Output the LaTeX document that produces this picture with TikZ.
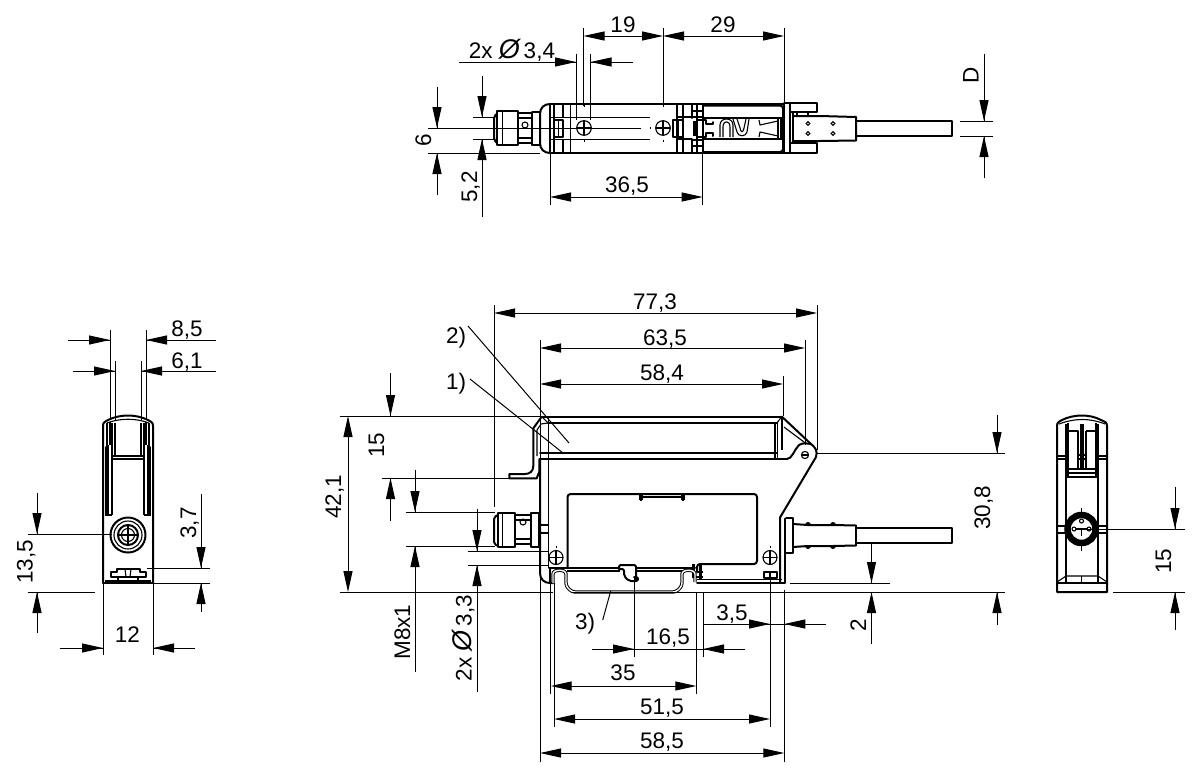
\documentclass[tikz,border=0pt]{standalone}
\usepackage{fontspec}
\setmainfont{Liberation Sans}
\usetikzlibrary{arrows.meta}
\tikzset{
  dimline/.style={line width=1pt,draw=black},
  dimboth/.style={dimline,{Triangle[length=21pt,width=9pt]}-{Triangle[length=21pt,width=9pt]}},
  dimtip/.style={dimline,-{Triangle[length=21pt,width=9pt]}},
  lbl/.style={inner sep=0pt,text height=16pt,text depth=0pt,font=\fontsize{22.5}{25}\selectfont},
  lblr/.style={lbl,rotate=90},
  thin line/.style={line width=0.8pt},
  med/.style={line width=1.1pt,line join=round},
  thick line/.style={line width=2pt,line join=round,line cap=round},
}
\begin{document}
\begin{tikzpicture}[x=1pt,y=-1pt]
\useasboundingbox (0,0) rectangle (1200,777);
% ================= TOP VIEW ==================
\draw[thick line] (550,104) -- (783,104);
\draw[thick line] (550,153) -- (783,153);
\draw[thick line] (550,104) .. controls (544,104) and (540,108) .. (540,114) -- (540,143) .. controls (540,149) and (544,153) .. (550,153);
\draw[thick line] (550,104) -- (550,153);
\draw[med] (554,104) -- (554,153);
\draw[med] (570.7,104) -- (570.7,153);
\draw[med] (563,104) -- (563,117) (563,139) -- (563,153);
\draw[thin line] (550,117) -- (650,117) (550,139) -- (650,139);
\draw[med] (554,120) -- (563,120) -- (563,137) -- (554,137);
\draw[thin line] (558,120) -- (558,137);
% centre screws
\draw[med] (584,128) circle (7.3);
\draw[med] (576.7,128) -- (591.3,128) (584,120.7) -- (584,135.3);
\draw[med] (663,128) circle (7.3);
\draw[med] (655.7,128) -- (670.3,128) (663,120.7) -- (663,135.3);
\draw[thin line] (584,104) -- (584,106.5) (584,140) -- (584,142) (663,104) -- (663,106.5) (663,140) -- (663,142) (650,127) -- (650,129);
% divider section
\draw[med] (677,104) -- (677,153) (683,104) -- (683,153);
\draw[thick line] (692,104) -- (692,118) (692,139) -- (692,153);
\draw[med] (697,104) -- (697,153) (703,104) -- (703,153);
\draw[med] (677,117) -- (692,117) (677,139) -- (692,139);
\draw[med] (692,111) -- (703,111) (692,117) -- (703,117) (692,140) -- (703,140) (692,146) -- (703,146);
\draw[med] (673,120) -- (683,120) -- (683,137) -- (673,137) -- cycle;
\draw[thin line] (678,120) -- (678,137);
% compartment
\draw[thick line,rounded corners=3pt] (703,105.5) -- (783,105.5) -- (783,152) -- (703,152);
\draw[med] (703,118) -- (782,118) (703,139) -- (782,139);
\draw[line width=3pt] (694,121) -- (694,136);
\draw[thick line] (697,120) -- (706,120) -- (706,124) -- (713,124) -- (713,122) (697,137) -- (706,137) -- (706,133) -- (713,133) -- (713,136);
\draw[med] (720,137) -- (720,125) .. controls (720,117) and (733,117) .. (733,125) -- (733,137);
\draw[med] (723,137) -- (723,127) .. controls (723,120) and (730,120) .. (730,127) -- (730,137);
\draw[med] (733,119) -- (737,132) .. controls (738,137) and (746,137) .. (747,132) -- (749,119);
\draw[med] (737,119) -- (740,128) .. controls (741,133) and (743,133) .. (744,128) -- (746,119);
\draw[med] (759,120) -- (760,125) -- (778,121) (759,137) -- (760,132) -- (778,136);
\draw[line width=1.6pt] (778,118) -- (778,139) (781,118) -- (781,139);
% right end
\draw[thick line] (784,104) -- (784,153);
\draw[thick line] (784,103) -- (816.5,103) -- (816.5,112) -- (790,112);
\draw[thick line] (784,153) -- (816.5,153) -- (816.5,143) -- (790,143);
\draw[med] (790,104) -- (790,153);
\draw[thick line] (793,112) -- (793,143);
\draw[line width=2.4pt] (797,111) -- (797,115) (808,111) -- (808,116) (797,140) -- (797,144) (808,140) -- (808,144);
% plug and cable
\draw[thick line] (793,116) -- (820,116) -- (856,117) -- (856,140.5) -- (820,141) -- (793,141);
\draw[line width=2.6pt] (856,117) -- (856,140.5);
\draw[thick line] (856,121) -- (952,121) -- (952,136) -- (856,136);
\foreach \px/\py in {808/123.5,808/133.5,833/123.5,833/133.5}
  \draw[line width=1.1pt] (\px,\py) circle (1.8);
% connector on the left
\draw[med] (540,118) -- (540,139);
\draw[thick line,rounded corners=2pt] (497,114) -- (494,116) -- (494,140) -- (497,143);
\draw[thick line] (497,111) -- (518,111) -- (518,145) -- (497,145) -- cycle;
\draw[thin line] (502,111) -- (502,145);
\draw[line width=2.6pt] (519,113) -- (532,113) (519,143) -- (532,143);
\draw[med] (519,118) -- (532,118) (519,138) -- (532,138);
\draw[med] (525,125) circle (3);
\draw[thick line] (532,112) -- (540,112) (532,145) -- (540,145) (532,112) -- (532,145);
% dims top
\draw[dimline] (583.5,28) -- (583.5,106) (663,28) -- (663,105) (784,28) -- (784,105);
\draw[dimboth] (583.5,36) -- (663,36);
\draw[dimboth] (663,36) -- (784,36);
\node[lbl] (t19) at (623,24) {19};
\node[lbl] (t29) at (723,24) {29};
\draw[dimline] (576,54) -- (576,120) (590.5,54) -- (590.5,120);
\draw[dimline] (459,62) -- (576,62) (590.5,62) -- (633,62);
\draw[dimtip] (555,62) -- (576,62);
\draw[dimtip] (611.5,62) -- (590.5,62);
\node[lbl] (tdia) at (512,50) {2x {\itshape\fontsize{27}{27}\selectfont Ø}\,3,4};
\draw[dimline] (473,117) -- (494,117) (473,139) -- (494,139);
\draw[dimline] (428,128) -- (641,128);
\draw[dimline] (428,153) -- (540,153);
\draw[dimline] (437,87) -- (437,128) (437,153) -- (437,195);
\draw[dimtip] (437,107) -- (437,128);
\draw[dimtip] (437,174) -- (437,153);
\node[lblr] (t6) at (423,140) {6};
\draw[dimline] (482,76) -- (482,117) (482,139) -- (482,217);
\draw[dimtip] (482,96) -- (482,117);
\draw[dimtip] (482,160) -- (482,139);
\node[lblr] (t52) at (469,187) {5,2};
\draw[dimline] (550,153) -- (550,205) (702.7,153) -- (702.7,205);
\draw[dimboth] (550,197) -- (702.7,197);
\node[lbl] (t365) at (627,184) {36,5};
\draw[dimline] (960,121) -- (993,121) (960,136) -- (993,136);
\draw[dimline] (984,54) -- (984,121) (984,136) -- (984,178);
\draw[dimtip] (984,100) -- (984,121);
\draw[dimtip] (984,157) -- (984,136);
\node[lblr] (tD) at (970.5,75.5) {D};
% ================= MAIN VIEW ==================
\draw[thick line] (541.7,416.5) -- (781.7,416.5);
\draw[thick line] (548,423) -- (777,423);
\draw[med] (541.7,416.5) -- (548,423) (781.7,416.5) -- (777,423);
\draw[med] (548.3,416.5) -- (548.3,568);
\draw[thick line] (540,453) -- (777,453);
\draw[thick line] (540,459) -- (787,459);
\draw[med] (775,423) -- (775,459) (777.5,423) -- (777.5,459) (782,416.5) -- (782,450);
% bracket
\draw[thick line] (541.7,416.7) -- (533.3,428.3) -- (533.3,466) .. controls (533.3,471) and (530,474) .. (525,474) -- (509.3,474) -- (509.3,478.3) -- (536.7,478.3) -- (539.3,471.7) -- (539.3,459);
\draw[med] (537,456) -- (537,430) -- (541,424) -- (548,423);
% left and pivot
\draw[thick line] (540,459) -- (540,573) .. controls (540,579) and (544,583) .. (550,583) -- (553,583);
\draw[thick line] (781.7,416.5) -- (811,444);
\draw[thick line] (811,444) .. controls (815,447) and (818,451) .. (816,457) -- (780,517.5) -- (780,583);
\draw[med] (784,427) -- (806,443.5);
\draw[thick line] (787,459) .. controls (792,459) and (794,450) .. (799,445) .. controls (803,442) and (809,444) .. (811,444);
\draw[med] (805,455) circle (3.6);
\draw[med] (801.5,455) -- (808.5,455);
% right bottom
\draw[med] (785,518) -- (785,583);
\draw[thick line] (697,582.5) -- (785,582.5);
\draw[med] (697,579.5) -- (782,579.5);
% window
\draw[thick line,rounded corners=3pt] (567.5,568) -- (567.5,494) -- (757,494) -- (757,564) -- (697,564) -- (697,572);
\draw[med] (640,495) -- (640,500) (642,495) -- (642,500) (684,495) -- (684,500) (682,495) -- (682,500) (640,497) -- (684,497) (640,500) -- (642,500) (682,500) -- (684,500);
\draw[thick line] (549,568) -- (619,568) (636,568) -- (695,568);
\draw[med] (567,571) -- (620,571) (636,571) -- (695,571);
\draw[line width=3pt] (693,564) -- (693,578) (700,565) -- (700,580);
\draw[med] (697,572) -- (703,572) (695,577) -- (703,577);
\draw[line width=2.8pt] (550,568) -- (550,582);
% hook
\draw[thick line,rounded corners=2pt] (619,569) -- (619,565) -- (636,565) -- (636,580);
\draw[thick line,rounded corners=2pt] (619,569) -- (624,569) -- (624,576) -- (629,581) -- (638,581) -- (638,577) -- (634,577);
% rail
\draw[line width=1pt,double=white,double distance=1.4pt,rounded corners=3pt,line join=round] (553,583) -- (553,577) .. controls (553,569) and (566,569) .. (566,577) -- (566,586) -- (572,592) -- (676,592) -- (682,586) -- (682,577) .. controls (682,569) and (695,569) .. (695,577) -- (695,582);
% screws
\foreach \sx in {556,770} {
  \draw[med] (\sx,557.5) circle (7);
  \draw[med] (\sx-7,557.5) -- (\sx+7,557.5) (\sx,550.5) -- (\sx,564.5);
  \draw[thin line] (\sx,545.5) -- (\sx,547.5);
}
\draw[thick line] (763.5,571.5) rectangle (776.5,578);
\draw[med] (770,571.5) -- (770,578);
% left connector
\draw[thick line,rounded corners=2pt] (498,515) -- (494,517) -- (494,544) -- (498,546);
\draw[thick line] (498,512.5) -- (515,512.5) -- (515,546.5) -- (498,546.5) -- cycle;
\draw[thin line] (502,513) -- (502,546);
\draw[line width=2.6pt] (516,515) -- (530,515) (516,544) -- (530,544);
\draw[med] (516,520) -- (530,520) (516,539) -- (530,539);
\draw[med] (523,522) circle (3);
\draw[thick line] (531,512.5) -- (539,512.5) -- (539,546.5) -- (531,546.5) -- cycle;
\draw[med] (540,525) -- (548,525) (540,533) -- (548,533);
% right connector
\draw[thick line] (786,518) -- (793,518) -- (793,552.5) -- (786,552.5);
\draw[thick line] (793,524) -- (808,525) (808,525) -- (833,525) -- (856,525.5);
\draw[thick line] (793,547) -- (808,546) -- (833,546) -- (856,545.5);
\draw[line width=2.6pt] (856,525) -- (856,546);
\draw[thick line] (856,528.3) -- (952,528.3) -- (952,543) -- (856,543);
\foreach \px in {808,833} {
  \fill (\px-3,525) arc[start angle=180,end angle=360,radius=3];
  \fill (\px-3,546) arc[start angle=180,end angle=0,radius=3];
}
% main dims
\draw[dimline] (494,305) -- (494,507) (817,305) -- (817,450);
\draw[dimboth] (494,313) -- (817,313);
\node[lbl] (t773) at (655,301) {77,3};
\draw[dimline] (540,340) -- (540,762) (805,340) -- (805,445);
\draw[dimboth] (540,348) -- (805,348);
\node[lbl] (t635) at (665,337) {63,5};
\draw[dimline] (783,376) -- (783,416);
\draw[dimboth] (540,384) -- (783,384);
\node[lbl] (t584) at (662,372) {58,4};
\node[lbl] (t2p) at (456,335) {2)};
\node[lbl] (t1p) at (456,381) {1)};
\draw[dimline] (468,326) -- (569,443);
\draw[dimline] (470,379) -- (563,453);
\draw[dimline] (340,416) -- (541,416);
\draw[dimline] (340,592) -- (553,592) (572,592) -- (880,592);
\draw[dimboth] (348,416) -- (348,592);
\node[lblr] (t421) at (333,497) {42,1};
\draw[dimline] (382,478) -- (510,478);
\draw[dimline] (390.5,373) -- (390.5,416) (390.5,478) -- (390.5,520.5);
\draw[dimtip] (390.5,395) -- (390.5,416);
\draw[dimtip] (390.5,499) -- (390.5,478);
\node[lblr] (t15a) at (376,445) {15};
\draw[dimline] (406,512) -- (495,512) (406,546) -- (495,546);
\draw[dimline] (415,470) -- (415,512) (415,546) -- (415,672);
\draw[dimtip] (415,491) -- (415,512);
\draw[dimtip] (415,567) -- (415,546);
\node[lblr] (tm8) at (402,632) {M8x1};
\draw[dimline] (468,551) -- (548,551) (468,565) -- (548,565);
\draw[dimline] (477,509) -- (477,551) (477,565) -- (477,692);
\draw[dimtip] (477,530) -- (477,551);
\draw[dimtip] (477,586) -- (477,565);
\node[lblr] (tdib) at (463.5,638) {2x {\itshape\fontsize{27}{27}\selectfont Ø}\,3,3};
\draw[dimline] (790,583) -- (890,583);
\draw[dimline] (871.5,543) -- (871.5,583) (871.5,592) -- (871.5,644);
\draw[dimtip] (871.5,562) -- (871.5,583);
\draw[dimtip] (871.5,613) -- (871.5,592);
\node[lblr] (t2) at (858,625) {2};
\draw[dimline] (817,453) -- (1005,453) (880,592) -- (1005,592);
\draw[dimline] (997,415) -- (997,453) (997,592) -- (997,625);
\draw[dimtip] (997,432) -- (997,453);
\draw[dimtip] (997,613) -- (997,592);
\node[lblr] (t308) at (982,508) {30,8};
\node[lbl] (t3p) at (585,621.5) {3)};
\draw[dimline] (610.7,591) -- (602.7,620);
\draw[dimline] (703,592) -- (703,657) (634,576) -- (634,657);
\draw[dimline] (703,624) -- (826,624);
\draw[dimtip] (749,624) -- (770,624);
\draw[dimtip] (805,624) -- (784.3,624);
\node[lbl] (t35b) at (732,612) {3,5};
\draw[dimline] (592,649) -- (745,649);
\draw[dimtip] (613,649) -- (634,649);
\draw[dimtip] (724,649) -- (703,649);
\node[lbl] (t165) at (668,636) {16,5};
\draw[dimline] (550.7,583) -- (550.7,694) (696.3,592) -- (696.3,694);
\draw[dimboth] (550.7,686) -- (696.3,686);
\node[lbl] (t35) at (623,672) {35};
\draw[dimline] (554,583) -- (554,727) (770,577) -- (770,727);
\draw[dimboth] (554,719) -- (770,719);
\node[lbl] (t515) at (662,706) {51,5};
\draw[dimline] (784.3,590) -- (784.3,762);
\draw[dimboth] (540,753) -- (784.3,753);
\node[lbl] (t585) at (662,740) {58,5};
% ================= LEFT VIEW ==================
\draw[thick line] (103,583) -- (103,426) .. controls (103,422) and (105,422) .. (108,420) .. controls (120,414) and (136,414) .. (148,420) .. controls (151,422) and (153,422) .. (153,426) -- (153,583);
\draw[med] (107,423) .. controls (120,418) and (136,418) .. (149,423);
\draw[line width=2.6pt] (103,583) -- (153,583);
\draw[med] (107,423) -- (107,449) (149,423) -- (149,449);
\draw[thick line] (106,447) -- (106,515) (150,447) -- (150,515);
\draw[med] (112,423) -- (112,515) (144,423) -- (144,515);
\draw[line width=2.6pt] (108,445) -- (108,515) (148,445) -- (148,515) (110,422) -- (110,445) (146,422) -- (146,445);
\draw[med] (115,423) -- (115,456) (141,423) -- (141,456) (111,456) -- (145,456) (111,459) -- (145,459);
\draw[med] (105,515) -- (112,515) (144,515) -- (151,515);
\draw[thick line] (128,535) circle (17.5);
\draw[med] (128,535) circle (14);
\draw[thick line] (128,535) circle (10);
\draw[med] (128,535) circle (6.5);
\draw[med] (118,535) -- (138,535) (128,525) -- (128,545);
\draw[thick line] (111,577) -- (111,572) -- (117,572) -- (117,568.5) -- (140,568.5) -- (140,572) -- (146,572) -- (146,577) -- cycle;
\draw[med] (125,569) -- (126,577) (131,569) -- (130,577);
\draw[med] (118,577) -- (118,583) (138,577) -- (138,583) (105,581) -- (151,581);
% left dims
\draw[dimline] (110,330) -- (110,420) (146,330) -- (146,420) (115,361) -- (115,420) (141,361) -- (141,420);
\draw[dimline] (68,340) -- (110,340) (146,340) -- (216,340);
\draw[dimtip] (89,340) -- (110,340);
\draw[dimtip] (167,340) -- (146,340);
\node[lbl] (t85) at (187,328) {8,5};
\draw[dimline] (73,371) -- (115,371) (141,371) -- (216,371);
\draw[dimtip] (94,371) -- (115,371);
\draw[dimtip] (162,371) -- (141,371);
\node[lbl] (t61) at (187,360) {6,1};
\draw[dimline] (28,534) -- (112,534) (28,592) -- (95,592);
\draw[dimline] (37,493) -- (37,534) (37,592) -- (37,633);
\draw[dimtip] (37,513) -- (37,534);
\draw[dimtip] (37,613) -- (37,592);
\node[lblr] (t135) at (24.5,562) {13,5};
\draw[dimline] (147,568) -- (210,568) (153,583) -- (210,583);
\draw[dimline] (201,494) -- (201,568) (201,583) -- (201,612);
\draw[dimtip] (201,547) -- (201,568);
\draw[dimtip] (201,604) -- (201,583);
\node[lblr] (t37) at (188,523) {3,7};
\draw[dimline] (103,583) -- (103,655) (153,583) -- (153,655);
\draw[dimline] (60,648) -- (103,648) (153,648) -- (195,648);
\draw[dimtip] (82,648) -- (103,648);
\draw[dimtip] (174,648) -- (153,648);
\node[lbl] (t12) at (127.5,634) {12};
% ================= RIGHT VIEW ==================
\draw[thick line] (1057,592) -- (1057,426) .. controls (1057,422) and (1059,422) .. (1062,420) .. controls (1074,414) and (1090,414) .. (1101,420) .. controls (1105,422) and (1107,422) .. (1107,426) -- (1107,592) -- cycle;
\draw[med] (1059,424) .. controls (1075,418) and (1090,418) .. (1105,424);
\draw[med] (1066,424) -- (1066,582) (1098,424) -- (1098,582);
\draw[med] (1068,423) -- (1068,476) (1096,423) -- (1096,476);
\draw[med] (1067,431) -- (1078,431) -- (1078,470) (1086,431) -- (1096,431) (1086,431) -- (1086,470);
\draw[med] (1081,424) -- (1081,470) (1083,424) -- (1083,470);
\draw[med] (1057,456) -- (1066,456) (1057,459) -- (1066,459) (1098,456) -- (1107,456) (1098,459) -- (1107,459);
\draw[med] (1078,455) -- (1086,455) (1078,459) -- (1086,459);
\draw[med] (1066,469) -- (1098,469) (1066,473) -- (1098,473) (1066,477) -- (1098,477);
\draw[med] (1057,526) -- (1066,526) (1057,533) -- (1066,533) (1098,526) -- (1107,526) (1098,533) -- (1107,533);
\draw[line width=6.5pt] (1081.5,529) circle (14);
\draw[med] (1076,529) -- (1088,529) (1081.5,529) -- (1081.5,536);
\draw[med] (1081.5,521) circle (2) (1074,529) circle (2) (1089,529) circle (2);
\draw[thin line] (1081.5,508) -- (1081.5,512) (1081.5,546) -- (1081.5,551);
\draw[line width=2.4pt] (1057,583) -- (1107,583);
\draw[med] (1057,582) -- (1066,576) -- (1098,576) -- (1107,582);
\draw[med] (1081.5,576) -- (1081.5,583);
% right dims
\draw[dimline] (1085,529) -- (1185,529) (1113,592) -- (1185,592);
\draw[dimline] (1175,487) -- (1175,529) (1175,592) -- (1175,630);
\draw[dimtip] (1175,508) -- (1175,529);
\draw[dimtip] (1175,613) -- (1175,592);
\node[lblr] (t15b) at (1163,561) {15};
\end{tikzpicture}
\end{document}
